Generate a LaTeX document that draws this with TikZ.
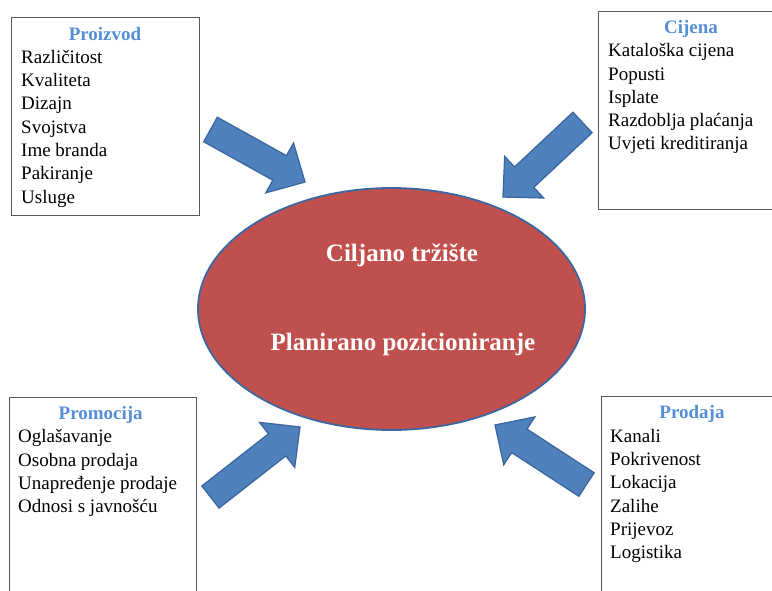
\documentclass[tikz,border=0pt]{standalone}
\usepackage{fontspec}
\setmainfont{Liberation Serif}
\usepackage{tikz}
\usetikzlibrary{calc, shapes.geometric}
\definecolor{crvena}{HTML}{C0504D}
\definecolor{plava}{HTML}{4F81BD}
\definecolor{tamnoplava}{HTML}{3A67A0}
\definecolor{naslovboja}{HTML}{558ED5}
\definecolor{okvir}{HTML}{5A5A5A}
\tikzstyle{kutija} = [draw=okvir, line width=1pt, anchor=north west, inner sep=0pt]
\tikzstyle{naslov} = [anchor=base, inner sep=0pt, text=naslovboja, font=\fontsize{19}{23.3}\selectfont\bfseries]
\tikzstyle{stavka} = [anchor=base west, inner sep=0pt, font=\fontsize{19}{23.3}\selectfont]
\tikzstyle{sredina} = [anchor=base, inner sep=0pt, text=white, font=\fontsize{25}{30}\selectfont\bfseries]
\tikzstyle{strelica} = [fill=plava, draw=tamnoplava, line width=1.3pt, line join=miter]
% blok strelica: #1 rep, #2 vrh
\newcommand{\blokstrelica}[2]{%
  \coordinate (h) at ($(#2)!29pt!(#1)$);
  \draw[strelica] ($(#1)!14pt!90:(#2)$) -- ($(h)!14pt!90:(#2)$)
    -- ($(h)!28.5pt!90:(#2)$) -- (#2) -- ($(h)!28.5pt!-90:(#2)$)
    -- ($(h)!14pt!-90:(#2)$) -- ($(#1)!14pt!-90:(#2)$) -- cycle;
}

\begin{document}
\begin{tikzpicture}[x=1pt,y=-1pt]
\useasboundingbox (0,0) rectangle (772,590);
\clip (0,0) rectangle (772,590);
% sredisnja elipsa
\node[ellipse, fill=crvena, draw=tamnoplava, line width=1.8pt, minimum width=387pt, minimum height=242pt, inner sep=0pt] (trziste) at (391.5,309) {};
\node[sredina] (ciljano) at (402,261.7) {Ciljano tržište};
\node[sredina] (pozicija) at (403,350.7) {Planirano pozicioniranje};
% Proizvod
\node[kutija, minimum width=188pt, minimum height=198pt] (proizvod) at (11,17) {};
\node[naslov] (proizvodnaslov) at (105,40) {Proizvod};
\foreach \s [count=\i from 0] in {Različitost, Kvaliteta, Dizajn, Svojstva, Ime branda, Pakiranje, Usluge}
  \node[stavka] (proizvod\i) at (21,63.3+23.3*\i) {\s};
% Cijena
\node[kutija, minimum width=200pt, minimum height=198pt] (cijena) at (598,11) {};
\node[naslov] (cijenanaslov) at (691,33.3) {Cijena};
\foreach \s [count=\i from 0] in {Kataloška cijena, Popusti, Isplate, Razdoblja plaćanja, Uvjeti kreditiranja}
  \node[stavka] (cijena\i) at (608,56.7+23.3*\i) {\s};
% Promocija
\node[kutija, minimum width=187pt, minimum height=210pt] (promocija) at (9,397) {};
\node[naslov] (promocijanaslov) at (100.7,419.3) {Promocija};
\foreach \s [count=\i from 0] in {Oglašavanje, Osobna prodaja, Unapređenje prodaje, Odnosi s javnošću}
  \node[stavka] (promocija\i) at (18,442.7+23.3*\i) {\s};
% Prodaja
\node[kutija, minimum width=200pt, minimum height=210pt] (prodaja) at (601,396) {};
\node[naslov] (prodajanaslov) at (692,418.3) {Prodaja};
\foreach \s [count=\i from 0] in {Kanali, Pokrivenost, Lokacija, Zalihe, Prijevoz, Logistika}
  \node[stavka] (prodaja\i) at (610,442.3+23.3*\i) {\s};
% strelice prema elipsi
\coordinate (rep1) at (210.5,129.5);
\coordinate (vrh1) at (305,182);
\coordinate (rep2) at (582.5,122.5);
\coordinate (vrh2) at (503,197);
\coordinate (rep3) at (210.5,497);
\coordinate (vrh3) at (300,427);
\coordinate (rep4) at (586.5,484.5);
\coordinate (vrh4) at (495,425);
\blokstrelica{rep1}{vrh1}
\blokstrelica{rep2}{vrh2}
\blokstrelica{rep3}{vrh3}
\blokstrelica{rep4}{vrh4}
\end{tikzpicture}
\end{document}
